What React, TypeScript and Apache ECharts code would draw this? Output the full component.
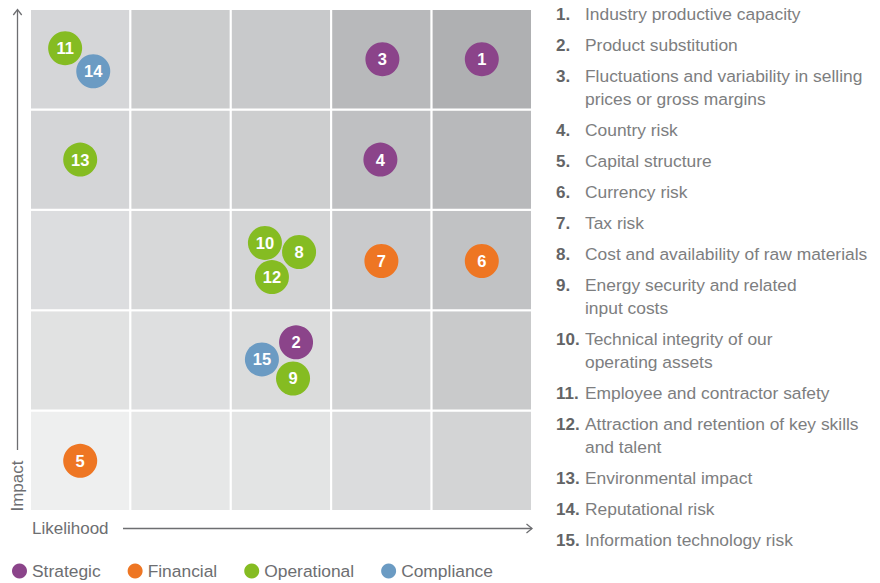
import React, { useEffect, useRef } from "react";
import * as echarts from "echarts";

// ---------- data ----------
const categories = ["Strategic", "Financial", "Operational", "Compliance"];

const riskIds = [1, 2, 3, 4, 5, 6, 7, 8, 9, 10, 11, 12, 13, 14, 15];
const riskNames = [
  "Industry productive capacity",
  "Product substitution",
  "Fluctuations and variability in selling\nprices or gross margins",
  "Country risk",
  "Capital structure",
  "Currency risk",
  "Tax risk",
  "Cost and availability of raw materials",
  "Energy security and related\ninput costs",
  "Technical integrity of our\noperating assets",
  "Employee and contractor safety",
  "Attraction and retention of key skills\nand talent",
  "Environmental impact",
  "Reputational risk",
  "Information technology risk",
];
const riskCategory = [
  "Strategic", "Strategic", "Strategic", "Strategic", "Financial",
  "Financial", "Financial", "Operational", "Operational", "Operational",
  "Operational", "Operational", "Operational", "Compliance", "Compliance",
];
// likelihood (x) and impact (y) on a 0–5 scale
const riskLikelihood = [4.5, 2.65, 3.51, 3.49, 0.5, 4.5, 3.5, 2.68, 2.62, 2.34, 0.35, 2.41, 0.5, 0.63, 2.31];
const riskImpact = [4.5, 1.68, 4.5, 3.5, 0.5, 2.49, 2.49, 2.58, 1.32, 2.67, 4.61, 2.33, 3.5, 4.38, 1.51];

const likelihoodBands = [0, 1, 2, 3, 4];
const impactBands = [0, 1, 2, 3, 4];

// ---------- styles ----------
const CAT_COLORS: Record<string, string> = {
  Strategic: "#8b448a",
  Financial: "#ee7623",
  Operational: "#85bc22",
  Compliance: "#6b9bc3",
};
// rows from bottom (impact band 0) to top
const CELL_COLORS = [
  ["#eeefef", "#e6e7e7", "#e3e4e4", "#dbdcdd", "#d3d4d5"],
  ["#e1e2e2", "#dedfe0", "#dbdcdc", "#d2d3d4", "#c9cacb"],
  ["#dcdddf", "#d7d8d9", "#d4d5d6", "#c9cacc", "#c1c2c4"],
  ["#d4d5d7", "#d1d2d3", "#cdcecf", "#bfc0c2", "#b8b9bb"],
  ["#d5d6d8", "#cbcccd", "#c8c9cb", "#b8b9bb", "#afb0b2"],
];
const FONT = "'Liberation Sans', Arial, Helvetica, sans-serif";
const AXIS_COLOR = "#6d6e71";
const TEXT_COLOR = "#7d7e80";
const NUM_COLOR = "#636466";

export default function App() {
  const ref = useRef<HTMLDivElement>(null);

  useEffect(() => {
    if (!ref.current) return;
    const chart = echarts.init(ref.current, undefined, { renderer: "svg" });

    const cells: number[][] = [];
    impactBands.forEach((r) => likelihoodBands.forEach((c) => cells.push([c, r])));

    const scatterSeries = categories.map((cat) => ({
      name: cat,
      type: "scatter",
      symbol: "circle",
      symbolSize: 34,
      itemStyle: { color: CAT_COLORS[cat], opacity: 1 },
      label: {
        show: true,
        position: "inside",
        formatter: (p: any) => String(p.value[2]),
        color: "#ffffff",
        fontSize: 16.5,
        fontWeight: "bold",
        fontFamily: FONT,
      },
      emphasis: { disabled: true },
      z: 5,
      data: riskIds
        .map((id, i) => ({ id, i }))
        .filter((d) => riskCategory[d.i] === cat)
        .map((d) => [riskLikelihood[d.i], riskImpact[d.i], d.id]),
    }));

    // right-hand list
    const listGraphics: any[] = [];
    let y = 14;
    riskIds.forEach((id, i) => {
      const lines = riskNames[i].split("\n").length;
      listGraphics.push({
        type: "text",
        x: 556,
        y,
        style: {
          text: id + ".",
          fill: NUM_COLOR,
          font: `bold 17px ${FONT}`,
          verticalAlign: "middle",
          align: "left",
        },
      });
      listGraphics.push({
        type: "text",
        x: 585,
        y: y - 11.5,
        style: {
          text: riskNames[i],
          fill: TEXT_COLOR,
          font: `17.4px ${FONT}`,
          lineHeight: 23,
          verticalAlign: "top",
          align: "left",
        },
      });
      y += 31 + 23 * (lines - 1);
    });

    chart.setOption({
      animation: false,
      grid: { left: 30, top: 9, width: 502, height: 502 },
      xAxis: {
        type: "value",
        min: 0,
        max: 5,
        interval: 1,
        show: false,
      },
      yAxis: {
        type: "value",
        min: 0,
        max: 5,
        interval: 1,
        show: false,
      },
      legend: {
        data: categories,
        left: 12,
        top: 562,
        padding: 0,
        icon: "circle",
        itemWidth: 15,
        itemHeight: 15,
        itemGap: 27,
        textStyle: { color: AXIS_COLOR, fontSize: 17.4, fontFamily: FONT, lineHeight: 18 },
        selectedMode: false,
      },
      series: [
        {
          type: "custom",
          silent: true,
          z: 1,
          data: cells,
          encode: { x: 0, y: 1 },
          renderItem: (_params: any, api: any) => {
            const c = api.value(0);
            const r = api.value(1);
            const p0 = api.coord([c, r + 1]);
            const p1 = api.coord([c + 1, r]);
            return {
              type: "rect",
              shape: { x: p0[0], y: p0[1], width: p1[0] - p0[0], height: p1[1] - p0[1] },
              style: { fill: CELL_COLORS[r][c], stroke: "#ffffff", lineWidth: 2 },
            };
          },
        },
        ...scatterSeries,
      ],
      graphic: [
        // y axis arrow
        { type: "line", shape: { x1: 17.5, y1: 450, x2: 17.5, y2: 10 }, style: { stroke: AXIS_COLOR, lineWidth: 1.3 } },
        {
          type: "polyline",
          shape: { points: [[13.3, 15], [17.5, 9.5], [21.7, 15]] },
          style: { stroke: AXIS_COLOR, lineWidth: 1.3, fill: "none" },
        },
        {
          type: "text",
          x: 17,
          y: 486,
          rotation: Math.PI / 2,
          style: {
            text: "Impact",
            fill: AXIS_COLOR,
            font: `17px ${FONT}`,
            align: "center",
            verticalAlign: "middle",
          },
        },
        // x axis arrow
        {
          type: "text",
          x: 32,
          y: 528,
          style: {
            text: "Likelihood",
            fill: AXIS_COLOR,
            font: `17px ${FONT}`,
            align: "left",
            verticalAlign: "middle",
          },
        },
        { type: "line", shape: { x1: 123, y1: 528.5, x2: 532, y2: 528.5 }, style: { stroke: AXIS_COLOR, lineWidth: 1.3 } },
        {
          type: "polyline",
          shape: { points: [[526.5, 524], [532, 528.5], [526.5, 533]] },
          style: { stroke: AXIS_COLOR, lineWidth: 1.3, fill: "none" },
        },
        ...listGraphics,
      ],
    });

    return () => chart.dispose();
  }, []);

  return (
    <div
      ref={ref}
      style={{ position: "absolute", left: 0, top: 0, width: 880, height: 583, background: "#ffffff" }}
    />
  );
}
